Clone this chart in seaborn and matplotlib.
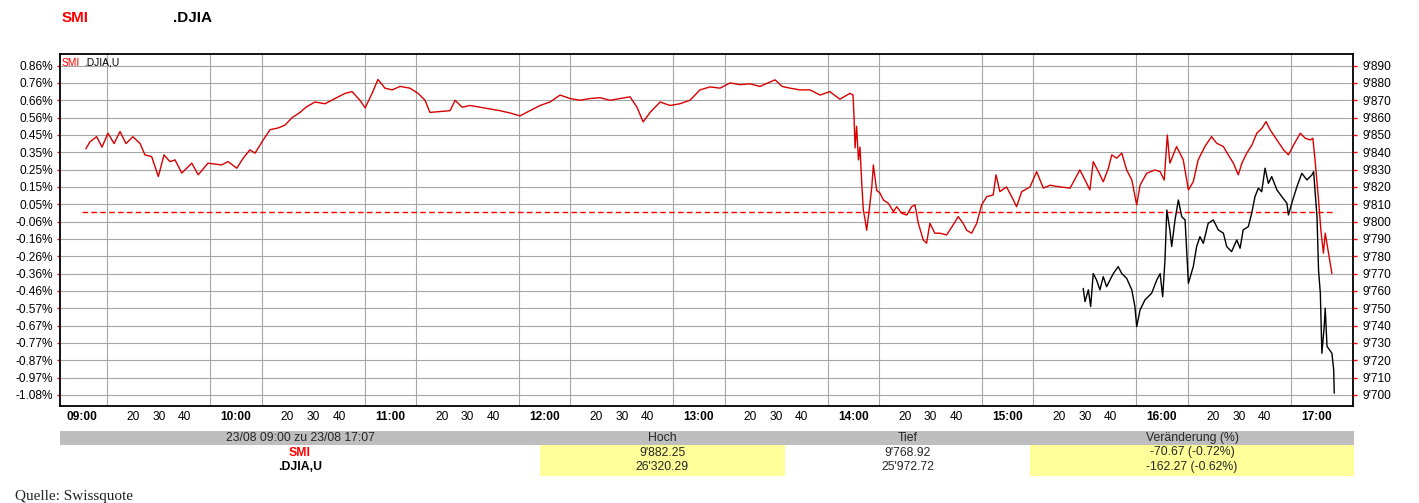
import matplotlib
matplotlib.use("Agg")
import matplotlib.pyplot as plt
import pandas as pd
import seaborn as sns

# ---------------- data ----------------
prev_close = 9805.5          # SMI reference level (dashed line)
session_start = 0.0          # minutes after 09:00
session_end = 487.0          # 17:07

smi_minutes = [1.6, 3.2, 5.8, 7.9, 10.2, 12.6, 14.9, 17.2, 19.9, 22.7, 24.6, 27.2, 29.8, 32.0,
               34.3, 36.3, 38.9, 42.8, 45.3, 49.1, 54.4, 56.9, 60.3, 62.8, 65.4, 67.4, 70.1,
               73.2, 76.3, 79.0, 81.8, 84.9, 87.2, 90.7, 94.6, 98.5, 102.4, 105.1, 108.2,
               110.2, 112.9, 115.2, 117.9, 120.7, 123.8, 127.6, 130.8, 133.5, 135.4, 139.3,
               143.2, 145.2, 147.9, 151.0, 154.9, 158.7, 162.6, 166.5, 170.4, 174.3, 178.2,
               182.1, 186.0, 189.9, 193.8, 197.6, 201.5, 205.4, 209.3, 213.2, 215.9, 218.3,
               221.0, 224.9, 228.8, 232.6, 236.5, 240.4, 244.3, 248.2, 252.1, 256.0, 259.8,
               263.7, 266.8, 269.6, 272.3, 275.4, 279.3, 283.2, 287.1, 290.9, 294.8, 298.7,
               299.9, 300.3, 300.7, 301.3, 302.0, 302.6, 303.3, 303.9, 304.6, 305.2, 306.2,
               307.2, 307.8, 309.1, 310.4, 311.7, 313.6, 315.6, 316.9, 318.8, 320.8, 322.7,
               324.0, 325.3, 327.2, 328.5, 329.8, 331.7, 333.7, 336.3, 338.8, 340.8, 342.7,
               344.1, 346.0, 348.0, 349.9, 351.9, 354.4, 355.5, 357.0, 359.6, 361.6, 363.5,
               365.5, 368.7, 371.3, 373.9, 376.5, 380.4, 384.3, 388.1, 390.1, 392.0, 393.3,
               395.3, 397.2, 399.2, 400.5, 402.4, 404.4, 406.3, 408.3, 410.2, 411.5, 414.1,
               417.3, 419.3, 420.9, 422.1, 423.1, 425.7, 428.3, 430.3, 432.2, 434.1, 436.7,
               439.3, 441.3, 443.9, 445.8, 447.8, 449.7, 451.1, 453.0, 455.0, 456.9, 458.9,
               460.5, 462.1, 464.7, 467.3, 469.2, 471.2, 473.8, 475.7, 477.7, 478.7, 479.6,
               480.9, 481.8, 482.8, 483.5, 484.8, 486.1]
smi_values = [9842, 9846, 9849, 9843, 9851, 9845, 9852, 9845, 9849, 9845, 9838.5, 9837.5, 9826,
              9838.5, 9834.6, 9835.6, 9828, 9833.7, 9827, 9833.7, 9832.7, 9834.6, 9830.8, 9836.6,
              9841.4, 9839.5, 9846, 9853, 9854, 9855.6, 9860, 9863, 9866, 9869, 9868, 9871, 9874,
              9875, 9870, 9865.6, 9874, 9882, 9877, 9876, 9878, 9877, 9874, 9870, 9863, 9863.5,
              9864, 9870, 9866, 9867, 9866, 9865, 9864, 9862.7, 9861, 9864, 9867, 9869, 9873,
              9871, 9870, 9871, 9871.5, 9870, 9871, 9872, 9866, 9857.5, 9863, 9869, 9867, 9868,
              9870, 9876, 9877.7, 9877, 9880, 9879, 9879.5, 9878, 9880, 9881.8, 9878, 9877, 9876,
              9876, 9873, 9875, 9870.6, 9874, 9873, 9860, 9842.5, 9855, 9835.6, 9843, 9822,
              9806.7, 9801, 9795, 9806.7, 9820, 9832.7, 9818, 9816.4, 9812.5, 9810.6, 9805.8,
              9808.6, 9804.8, 9803.8, 9808.6, 9809.6, 9799, 9789.4, 9787.5, 9799, 9793.3, 9793.3,
              9792.3, 9798, 9802.9, 9799, 9795, 9793.3, 9799, 9809.6, 9814.4, 9815.4, 9827,
              9817.3, 9820, 9814.4, 9808.6, 9817.3, 9820, 9828.8, 9819.3, 9821, 9820, 9819.3,
              9829.8, 9824, 9818.3, 9834.6, 9828.8, 9823, 9830.8, 9838.5, 9836.6, 9839.5, 9829.8,
              9824, 9809.6, 9821, 9827.9, 9829.8, 9828.8, 9824, 9850, 9833.7, 9843.3, 9835.6,
              9818.3, 9823, 9835.6, 9843.3, 9849, 9845.2, 9843.3, 9838.5, 9833.7, 9827, 9833.7,
              9839.5, 9844.2, 9851, 9853.9, 9857.7, 9852.9, 9847.1, 9841.4, 9838.5, 9844.2, 9851,
              9848.1, 9847.1, 9848.1, 9834.6, 9812.5, 9795.2, 9781.8, 9793.3, 9781.8, 9770]

djia_minutes = [389.4, 390.1, 391.4, 392.3, 393.3, 394.6, 395.9, 397.2, 398.5, 399.8, 401.1,
                403.0, 404.4, 406.3, 408.3, 409.5, 410.2, 411.5, 413.4, 416.0, 418.0, 419.3,
                420.3, 421.2, 421.9, 423.1, 423.8, 425.1, 426.4, 427.7, 429.0, 430.3, 432.2,
                433.5, 434.8, 436.1, 438.0, 440.0, 441.9, 443.9, 445.2, 447.1, 449.1, 450.4,
                451.6, 453.6, 454.9, 456.2, 457.5, 458.8, 460.1, 461.4, 462.7, 464.7, 466.6,
                468.6, 469.2, 470.5, 472.5, 474.4, 476.4, 478.3, 479.0, 479.6, 480.3, 480.9,
                481.6, 482.2, 483.1, 483.5, 484.2, 485.2, 486.1, 486.8, 487.0]
djia_pct = [-0.449, -0.527, -0.458, -0.556, -0.362, -0.400, -0.458, -0.380, -0.439, -0.400,
            -0.362, -0.321, -0.362, -0.390, -0.458, -0.556, -0.674, -0.576, -0.517, -0.478,
            -0.400, -0.362, -0.498, -0.280, 0.012, -0.105, -0.203, -0.046, 0.071, -0.027,
            -0.046, -0.419, -0.321, -0.203, -0.145, -0.184, -0.066, -0.046, -0.105, -0.124,
            -0.203, -0.233, -0.164, -0.213, -0.105, -0.086, -0.007, 0.091, 0.141, 0.120,
            0.258, 0.169, 0.209, 0.131, 0.091, 0.052, -0.017, 0.052, 0.150, 0.228, 0.189,
            0.218, 0.238, 0.111, -0.027, -0.341, -0.478, -0.831, -0.674, -0.566, -0.791,
            -0.811, -0.831, -0.929, -1.066]

level_ticks = [9890, 9880, 9870, 9860, 9850, 9840, 9830, 9820, 9810, 9800,
               9790, 9780, 9770, 9760, 9750, 9740, 9730, 9720, 9710, 9700]
left_labels = ['0.86%', '0.76%', '0.66%', '0.56%', '0.45%', '0.35%', '0.25%', '0.15%',
               '0.05%', '-0.06%', '-0.16%', '-0.26%', '-0.36%', '-0.46%', '-0.57%',
               '-0.67%', '-0.77%', '-0.87%', '-0.97%', '-1.08%']
right_labels = ["9'890", "9'880", "9'870", "9'860", "9'850", "9'840", "9'830", "9'820",
                "9'810", "9'800", "9'790", "9'780", "9'770", "9'760", "9'750", "9'740",
                "9'730", "9'720", "9'710", "9'700"]

hour_labels = ['09:00', '10:00', '11:00', '12:00', '13:00', '14:00', '15:00', '16:00', '17:00']
minute_labels = ['20', '30', '40']

table_header = ['23/08 09:00 zu 23/08 17:07', 'Hoch', 'Tief', 'Veränderung (%)']
table_names = ['SMI', '.DJIA,U']
table_high = ["9'882.25", "26'320.29"]
table_low = ["9'768.92", "25'972.72"]
table_change = ['-70.67 (-0.72%)', '-162.27 (-0.62%)']

# ---------------- style ----------------
sns.set_theme(style='white')
plt.rcParams['font.family'] = ['Liberation Sans', 'DejaVu Sans']

W, H = 1419, 503
fig = plt.figure(figsize=(W / 100, H / 100), dpi=100)
fig.patch.set_facecolor('white')

RED_LINE = '#D80000'
RED = '#FF0000'
GRID = '#A6A6A6'

ax = fig.add_axes([60 / W, 97 / H, 1293 / W, 352 / H])

smi_df = pd.DataFrame({'minute': smi_minutes, 'value': smi_values})
djia_df = pd.DataFrame({'minute': djia_minutes,
                        'value': [prev_close * (1 + p / 100) for p in djia_pct]})

ax.hlines(prev_close, session_start, session_end, colors=RED, linewidth=1.0,
          linestyles=(0, (4.0, 2.4)), zorder=2)
sns.lineplot(data=djia_df, x='minute', y='value', color='black', linewidth=1.0,
             estimator=None, ax=ax, zorder=3)
sns.lineplot(data=smi_df, x='minute', y='value', color=RED_LINE, linewidth=1.0,
             estimator=None, ax=ax, zorder=4)

ax.set_xlim(-8.44, 494.3)
ax.set_ylim(9693.6, 9896.7)
ax.set_xlabel('')
ax.set_ylabel('')

# x ticks: labels at hours and at :20 :30 :40
xt, xl = [], []
for h, lab in enumerate(hour_labels):
    xt.append(h * 60)
    xl.append(lab)
    if h < len(hour_labels) - 1:
        for ml in minute_labels:
            xt.append(h * 60 + int(ml))
            xl.append(ml)
ax.set_xticks(xt)
ax.set_xticklabels(xl)
for t in ax.get_xticklabels():
    if ':' in t.get_text():
        t.set_fontweight('bold')
ax.tick_params(axis='x', which='major', length=0, pad=3.5, labelsize=8.6, colors='black')

grid_x = [m for m in range(10, 481, 10)]
ax.set_xticks(grid_x, minor=True)
ax.tick_params(axis='x', which='minor', length=0)
ax.grid(False)
ax.grid(which='minor', axis='x', color=GRID, linewidth=0.8)

ax.set_yticks(level_ticks)
ax.set_yticklabels(left_labels)
ax.grid(which='major', axis='y', color=GRID, linewidth=0.8)
ax.tick_params(axis='y', which='major', left=True, length=2.5, width=1.0, color=RED,
               pad=2.6, labelsize=8.6, labelcolor='black')

for s in ax.spines.values():
    s.set_visible(True)
    s.set_color('black')
    s.set_linewidth(1.3)

ax2 = ax.twinx()
ax2.set_ylim(ax.get_ylim())
ax2.set_yticks(level_ticks)
ax2.set_yticklabels(right_labels)
ax2.tick_params(axis='y', right=True, length=3, width=1.0, color=RED, pad=3.5,
                labelsize=8.6, labelcolor='black')
ax2.grid(False)
for s in ax2.spines.values():
    s.set_visible(False)

# in-plot legend
fig.text(62 / W, 1 - 62.5 / H, 'SMI', color=RED, fontsize=7.4, va='center', ha='left')
fig.text(84 / W, 1 - 62.5 / H, '.DJIA,U', color='black', fontsize=7.4, va='center', ha='left')

# header
fig.text(62 / W, 1 - 18.5 / H, 'SMI', color=RED, fontsize=11, fontweight='bold',
         va='center', ha='left')
fig.text(173 / W, 1 - 18.5 / H, '.DJIA', color='black', fontsize=11, fontweight='bold',
         va='center', ha='left')

# table
tab = fig.add_axes([60 / W, (H - 476) / H, 1294 / W, 45 / H])
tab.set_xlim(60, 1354)
tab.set_ylim(476, 431)
tab.axis('off')
col_edges = [60, 540, 785, 1030, 1354]
row_top, row_mid, row_bot = 431, 445, 476
tab.fill_between([col_edges[0], col_edges[-1]], row_top, row_mid, color='#BEBEBE', lw=0)
for c in (1, 3):
    tab.fill_between([col_edges[c], col_edges[c + 1]], row_mid, row_bot, color='#FFFF99', lw=0)
narrow = ['Liberation Sans Narrow', 'Liberation Sans', 'DejaVu Sans']
centers = [(col_edges[i] + col_edges[i + 1]) / 2 for i in range(4)]
for c, txt in zip(centers, table_header):
    tab.text(c, 438.2, txt, ha='center', va='center', fontsize=8.8, family=narrow)
rows_y = [452.5, 466.7]
for r, y in enumerate(rows_y):
    tab.text(centers[0], y, table_names[r], ha='center', va='center', fontsize=8.8,
             family=narrow, fontweight='bold', color=RED if r == 0 else 'black')
    tab.text(centers[1], y, table_high[r], ha='center', va='center', fontsize=8.8, family=narrow)
    tab.text(centers[2], y, table_low[r], ha='center', va='center', fontsize=8.8, family=narrow)
    tab.text(centers[3], y, table_change[r], ha='center', va='center', fontsize=8.8, family=narrow)

fig.text(15 / W, 1 - 496.7 / H, 'Quelle: Swissquote', fontsize=11,
         family=['Liberation Serif', 'DejaVu Serif'], va='center', ha='left', color='#222222')

fig.savefig('out.png', dpi=100, facecolor='white')
